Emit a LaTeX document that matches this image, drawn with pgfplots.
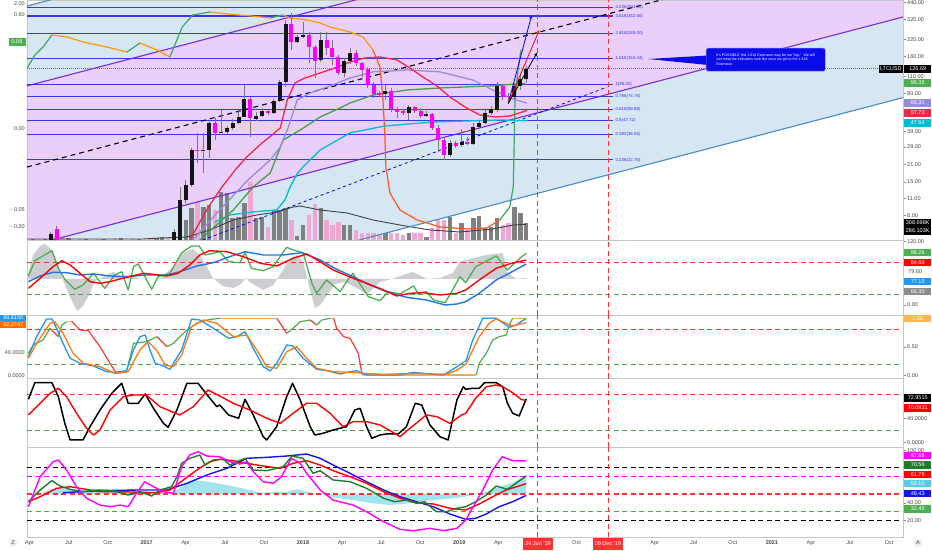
\documentclass[border=0pt]{standalone}
\usepackage{pgfplots}
\pgfplotsset{compat=1.18}
\usepackage{pgfplotstable}
\usepackage{fontspec}
\setmainfont{Liberation Sans}
\usetikzlibrary{arrows.meta}

\definecolor{lav}{RGB}{234,207,250}
\definecolor{lblue}{RGB}{214,230,243}
\definecolor{chanpurple}{RGB}{125,40,225}
\definecolor{chanblue}{RGB}{70,140,200}
\definecolor{fibblue}{RGB}{55,55,235}
\definecolor{maRed}{RGB}{242,40,70}
\definecolor{maPeri}{RGB}{150,140,220}
\definecolor{maGreen}{RGB}{67,160,71}
\definecolor{maCyan}{RGB}{0,188,212}
\definecolor{oscG}{RGB}{60,170,90}
\definecolor{oscO}{RGB}{255,152,0}
\definecolor{oscR}{RGB}{255,87,34}
\definecolor{candleUp}{RGB}{20,20,20}
\definecolor{candleDn}{RGB}{255,0,255}
\definecolor{wickc}{RGB}{120,120,120}
\definecolor{volUp}{RGB}{128,128,128}
\definecolor{volDn}{RGB}{240,165,210}
\definecolor{dRed}{RGB}{255,50,50}
\definecolor{dGreen}{RGB}{70,170,70}
\definecolor{iGreen}{RGB}{76,175,80}
\definecolor{iRed}{RGB}{255,0,0}
\definecolor{iBlue}{RGB}{33,118,230}
\definecolor{sBlue}{RGB}{33,150,243}
\definecolor{sOrange}{RGB}{255,120,20}
\definecolor{sOrangeL}{RGB}{255,170,80}
\definecolor{sRed}{RGB}{240,60,50}
\definecolor{mag}{RGB}{255,0,255}
\definecolor{dkGreen}{RGB}{30,125,45}
\definecolor{pBlue}{RGB}{20,20,230}
\definecolor{cyanFill}{RGB}{160,228,240}
\definecolor{cyanBox}{RGB}{90,205,230}
\definecolor{grayFill}{RGB}{205,205,210}
\definecolor{txt}{RGB}{70,70,70}
\definecolor{callout}{RGB}{10,10,235}
\definecolor{orangeBox}{RGB}{255,183,77}
\definecolor{orangeBox2}{RGB}{255,109,0}

\newcommand\lbl{\fontsize{5.5}{6}\selectfont}
\newcommand\fibl{\fontsize{4.4}{5}\selectfont}

\pgfplotsset{
  panel/.style={scale only axis, width=876pt, anchor=south west,
    xmin=-25.04, xmax=124.19, xtick=\empty,
    axis line style={draw=black!22, line width=0.9pt},
    ytick pos=right, yticklabel pos=right,
    tick align=outside, major tick length=2.5pt,
    ytick style={draw=black!45, line width=0.5pt},
    yticklabel style={font=\lbl, text=txt, inner sep=1.5pt},
    /pgf/number format/assume math mode=true,
    line join=round},
  dl/.style={line width=1.1pt, dash pattern=on 5pt off 3.5pt},
}
\tikzset{vb/.style={fill=#1, text=white, font=\lbl, inner sep=0pt, minimum width=27pt, minimum height=7.5pt, anchor=west}}

\begin{document}
\begin{tikzpicture}[x=1pt,y=1pt]
\path[use as bounding box] (0,0) rectangle (932,550);
\fill[white] (0,0) rectangle (932,550);

% ================= MAIN PANEL : background channels
\begin{axis}[panel, at={(27pt,310pt)}, height=240pt, ymode=log, ymin=5.03, ymax=463.3, axis on top,
  ytick={8,11,15,21,29,39,80,110,160,220,320,440},
  yticklabels={8.00,11.00,15.00,21.00,29.00,39.00,80.00,110.00,160.00,220.00,320.00,440.00}]
\addplot[draw=none, fill=lblue] coordinates {(-25.04,413.8) (124.19,31180) (124.19,6913) (-25.04,91.8)};
\addplot[draw=none, fill=lav] coordinates {(-25.04,91.8) (124.19,6913) (124.19,336.4) (-25.04,4.44)};
\addplot[draw=none, fill=lblue] coordinates {(-25.04,4.44) (124.19,336.4) (124.19,73.6) (-25.04,0.976)};
\end{axis}

% ================= MAIN PANEL : volume
\begin{axis}[panel, at={(27pt,310pt)}, height=240pt, ymin=0, ymax=4358, hide axis]
\addplot[ycomb, volUp, line width=4.4pt] coordinates {(-24,20)(-22,25)(-21,60)(-18,30)(-15,20)(-12,25)(-9,30)(-6,20)(-3,40)(-2,60)(0,145)(1,218)(2,363)(3,581)(5,599)(6,636)(8,872)(9,854)(10,400)(11,418)(12,672)(14,400)(15,418)(17,545)(18,545)(19,581)(21,73)(22,272)(25,581)(29,272)(30,272)(36,127)(40,127)(43,54)(47,418)(49,309)(51,400)(52,436)(53,218)(54,236)(55,400)(58,599)(59,490)(60,309)};
\addplot[ycomb, volDn, line width=4.4pt] coordinates {(-23,20)(-20,90)(-19,30)(-16,25)(-13,20)(-10,30)(-7,25)(-4,30)(-1,50)(4,690)(7,545)(13,1053)(16,236)(20,363)(23,454)(24,654)(26,363)(27,272)(28,327)(31,182)(32,127)(33,127)(34,127)(35,91)(37,127)(38,127)(39,91)(41,127)(42,127)(44,218)(45,363)(46,363)(48,127)(50,182)(56,272)(57,309)};
\addplot[black!75, line width=0.9pt] coordinates {(-25.0,18)(-5.3,18)(-2.4,36)(2.2,54)(6.1,182)(10.1,363)(14.1,454)(17.5,508)(20.3,599)(21.5,617)(24.9,545)(29.5,490)(33.9,363)(38.5,272)(43.6,182)(48.7,145)(54.3,200)(57.8,272)(60.0,286)};
\end{axis}

% ================= MAIN PANEL : price
\begin{axis}[panel, at={(27pt,310pt)}, height=240pt, ymode=log, ymin=5.03, ymax=463.3, hide axis]
% channel lines
\addplot[chanblue, line width=1.1pt] coordinates {(-25.04,413.8) (124.19,31180)};
\addplot[chanpurple, line width=1.1pt] coordinates {(-25.04,91.8) (124.19,6913)};
\addplot[chanpurple, line width=1.1pt] coordinates {(-25.04,4.44) (124.19,336.4)};
\addplot[chanblue, line width=1.1pt] coordinates {(-25.04,0.976) (124.19,73.6)};
% fibonacci levels
\addplot[fibblue, line width=1.1pt] coordinates {(-25.04,404.80) (74.8,404.80)};
\addplot[fibblue, line width=1.1pt] coordinates {(-25.04,342.56) (74.8,342.56)};
\addplot[fibblue, line width=1.1pt] coordinates {(-25.04,248.00) (74.8,248.00)};
\addplot[fibblue, line width=1.1pt] coordinates {(-25.04,153.44) (74.8,153.44)};
\addplot[fibblue, line width=1.1pt] coordinates {(-25.04,95.00) (74.8,95.00)};
\addplot[fibblue, line width=1.1pt] coordinates {(-25.04,74.76) (74.8,74.76)};
\addplot[fibblue, line width=1.1pt] coordinates {(-25.04,58.88) (74.8,58.88)};
\addplot[fibblue, line width=1.1pt] coordinates {(-25.04,47.72) (74.8,47.72)};
\addplot[fibblue, line width=1.1pt] coordinates {(-25.04,36.56) (74.8,36.56)};
\addplot[fibblue, line width=1.1pt] coordinates {(-25.04,22.76) (74.8,22.76)};
% last price
\addplot[black!55, line width=0.9pt, dash pattern=on 1pt off 1pt] coordinates {(-25.04,126.69) (124.19,126.69)};
% trend lines
\addplot[black, line width=1.1pt, dash pattern=on 5pt off 4pt] coordinates {(-25.04,19.9) (83.6,472)};
\addplot[blue, line width=0.8pt, dash pattern=on 3pt off 3pt] coordinates {(4.9,5.03) (73.8,89.9)};
% oscillator overlay (left scale)
\addplot[oscG, line width=1.2pt] coordinates {(-25.0,128.7) (-23.7,164.3) (-22.3,191.0) (-20.8,239.6)};
\addplot[oscO, line width=1.2pt] coordinates {(-20.8,239.6) (-18.2,230.8) (-15.5,210.0) (-11.4,191.0) (-8.0,173.8)};
\addplot[oscG, line width=1.2pt] coordinates {(-8.0,173.8) (-5.8,206.1)};
\addplot[oscO, line width=1.2pt] coordinates {(-5.8,206.1) (-2.9,180.6) (-0.7,158.3)};
\addplot[oscG, line width=1.2pt] coordinates {(-0.7,158.3) (1.4,278.6) (3.2,349.3) (6.1,369.5)};
\addplot[oscO, line width=1.2pt] coordinates {(6.1,369.5) (10.9,349.3) (12.6,345) (16.4,330.0)};
\addplot[oscG, line width=1.2pt] coordinates {(16.4,330.0) (18.6,349.3)};
\addplot[oscO, line width=1.2pt] coordinates {(18.6,349.3) (19.8,330.0) (22.7,317.8) (24.9,300.4) (26.6,278.6) (30.0,253.5) (32.2,230.8) (33.9,180.6)};
\addplot[oscR, line width=1.2pt] coordinates {(33.9,180.6) (35.1,131.1) (35.6,70.4) (35.9,37.9) (36.1,19.9) (36.8,12.15) (38.5,8.86) (41.4,7.34) (45.3,6.43) (49.9,6.19) (53.3,6.31) (55.5,7.34)};
\addplot[oscG, line width=1.2pt] coordinates {(55.5,7.34) (57.2,9.37) (57.8,13.7) (58.1,70.4) (58.6,123.9) (59.1,180.6)};
% moving averages
\addplot[maCyan, line width=1.3pt] coordinates {(7.0,7.07) (9.5,8.06) (14.1,8.6) (17.5,8.86) (18.9,10.7) (19.8,13.7) (21.0,17.5) (22.0,20.0) (24.9,27.4) (30.0,37.9) (35.9,43.1) (44.1,46.5) (55.5,48.3) (60.1,47.64)};
\addplot[maGreen, line width=1.3pt] coordinates {(4.4,5.03) (10.1,8.86) (13.5,13.7) (16.4,17.8) (18.6,33.1) (21.5,40.0) (24.9,51.1) (28.3,60.5) (30.0,66.5) (33.9,77.3) (39.7,85.0) (45.3,88.3) (53.8,91.7) (59.8,96.35)};
\addplot[maPeri, line width=1.3pt] coordinates {(3.2,5.03) (7.8,8.86) (12.6,15.6) (16.4,22.7) (18.1,29.0) (19.3,40.0) (21.0,70.4) (23.2,80.3) (26.1,90.0) (30.0,106.5) (33.9,119.6) (39.7,123.9) (45.3,119.6) (50.9,102.6) (54.3,85.0) (57.8,71.7) (60.1,66.31)};
\addplot[maRed, line width=1.3pt] coordinates {(2.7,5.03) (4.4,7.07) (6.1,9.73) (8.2,13.7) (10.4,18.8) (12.4,24.1) (15.0,31.3) (16.7,36.4) (18.1,41.5) (19.3,70.4) (20.6,96.9) (22.3,106.5) (24.9,117.1) (27.8,130.6) (30.0,144.1) (32.5,155.3) (35.1,158.3) (38.0,149.6) (40.2,128.6) (42.4,108.5) (44.8,91.7) (47.0,74.5) (49.6,61.6) (52.1,53.0) (54.7,51.1) (57.2,52.0) (60.1,57.73)};
% candles: wicks
\addplot[wickc, line width=0.6pt, unbounded coords=jump] coordinates {(-21,4.4)(-21,5.9)(-21,nan) (-20,4.3)(-20,6.55)(-20,nan) (0,4.3)(0,6.2)(0,nan) (1,4.8)(1,13.7)(1,nan) (2,10.1)(2,15.6)(2,nan) (3,13.7)(3,28.5)(3,nan) (4,21.5)(4,37.9)(4,nan) (5,17.8)(5,37.9)(5,nan) (6,23.6)(6,48.3)(6,nan) (7,33.1)(7,50.2)(7,nan) (8,37.5)(8,58.3)(8,nan) (9,37.2)(9,43.1)(9,nan) (10,40.0)(10,49.2)(10,nan) (11,44.7)(11,58.3)(11,nan) (12,51.1)(12,93.4)(12,nan) (13,35.0)(13,74.5)(13,nan) (14,47.4)(14,56.1)(14,nan) (15,51.1)(15,60.5)(15,nan) (16,53.0)(16,58.3)(16,nan) (17,54.0)(17,71.7)(17,nan) (18,67.8)(18,102.6)(18,nan) (19,90.0)(19,317.8)(19,nan) (20,180.6)(20,362.6)(20,nan) (21,206.1)(21,239.6)(21,nan) (22,226.5)(22,306.1)(22,nan) (23,141.8)(23,253.4)(23,nan) (24,106.5)(24,198.4)(24,nan) (25,144.1)(25,253.4)(25,nan) (26,164.3)(26,253.4)(26,nan) (27,136.1)(27,218.0)(27,nan) (28,112.7)(28,164.3)(28,nan) (29,108.5)(29,155.3)(29,nan) (30,138.7)(30,187.4)(30,nan) (31,133.6)(31,180.6)(31,nan) (32,108.5)(32,144.1)(32,nan) (33,88.3)(33,130.6)(33,nan) (34,72.9)(34,98.8)(34,nan) (35,74.5)(35,83.4)(35,nan) (36,70.4)(36,93.4)(36,nan) (37,56.1)(37,88.3)(37,nan) (38,50.2)(38,61.6)(38,nan) (39,53.0)(39,59.4)(39,nan) (40,48.3)(40,64.0)(40,nan) (41,55.1)(41,62.8)(41,nan) (42,50.2)(42,60.5)(42,nan) (43,51.1)(43,57.2)(43,nan) (44,40.0)(44,55.1)(44,nan) (45,26.4)(45,43.9)(45,nan) (46,22.7)(46,34.4)(46,nan) (47,24.1)(47,33.1)(47,nan) (48,28.5)(48,32.5)(48,nan) (49,29.0)(49,40.8)(49,nan) (50,30.1)(50,35.0)(50,nan) (51,30.1)(51,45.6)(51,nan) (52,40.8)(52,48.3)(52,nan) (53,44.7)(53,58.3)(53,nan) (54,53.0)(54,62.8)(54,nan) (55,56.1)(55,98.8)(55,nan) (56,70.4)(56,95.2)(56,nan) (57,66.5)(57,80.3)(57,nan) (58,70.4)(58,97.0)(58,nan) (59,85.0)(59,114.8)(59,nan) (60,97.0)(60,133.6)};
% candles: bodies
\addplot[candleUp, line width=4pt, unbounded coords=jump] coordinates {(-21,4.6)(-21,5.6)(-21,nan) (0,4.5)(0,5.85)(0,nan) (1,4.9)(1,10.7)(1,nan) (2,10.7)(2,14.2)(2,nan) (3,14.2)(3,27.4)(3,nan) (5,26.7)(5,27.3)(5,nan) (6,27.3)(6,45.6)(6,nan) (8,37.7)(8,38.6)(8,nan) (9,38.5)(9,41.5)(9,nan) (10,41.5)(10,45.6)(10,nan) (11,45.6)(11,51.1)(11,nan) (12,51.1)(12,71.7)(12,nan) (14,49.2)(14,52.0)(14,nan) (15,52.0)(15,57.2)(15,nan) (17,55.1)(17,69.1)(17,nan) (18,69.1)(18,98.8)(18,nan) (19,98.8)(19,294.8)(19,nan) (21,210.0)(21,230.8)(21,nan) (22,230.8)(22,239.6)(22,nan) (25,149.6)(25,218.0)(25,nan) (29,117.1)(29,146.8)(29,nan) (30,146.8)(30,170.6)(30,nan) (36,78.8)(36,83.4)(36,nan) (40,55.1)(40,61.6)(40,nan) (43,52.0)(43,54.0)(43,nan) (47,25.0)(47,31.3)(47,nan) (49,30.1)(49,31.9)(49,nan) (51,30.7)(51,42.3)(51,nan) (52,42.3)(52,45.6)(52,nan) (53,45.6)(53,55.1)(53,nan) (54,55.1)(54,59.4)(54,nan) (55,58.3)(55,91.7)(55,nan) (58,74.5)(58,91.7)(58,nan) (59,91.7)(59,104.6)(59,nan) (60,104.6)(60,126.69)};
\addplot[candleDn, line width=4pt, unbounded coords=jump] coordinates {(-20,6.2)(-20,4.8)(-20,nan) (4,27.4)(4,26.7)(4,nan) (7,45.6)(7,37.9)(7,nan) (13,71.7)(13,50.2)(13,nan) (16,57.2)(16,55.1)(16,nan) (20,294.8)(20,210.0)(20,nan) (23,239.6)(23,191.0)(23,nan) (24,191.0)(24,146.8)(24,nan) (26,218.0)(26,187.4)(26,nan) (27,187.4)(27,158.3)(27,nan) (28,158.3)(28,117.1)(28,nan) (31,170.6)(31,141.8)(31,nan) (32,141.8)(32,123.9)(32,nan) (33,126.2)(33,93.4)(33,nan) (34,93.4)(34,78.8)(34,nan) (35,80.3)(35,77.3)(35,nan) (37,83.4)(37,59.4)(37,nan) (38,59.4)(38,56.1)(38,nan) (39,57.2)(39,55.1)(39,nan) (41,61.6)(41,57.2)(41,nan) (42,57.2)(42,52.0)(42,nan) (44,54.0)(44,41.5)(44,nan) (45,41.5)(45,33.1)(45,nan) (46,33.1)(46,25.0)(46,nan) (48,31.3)(48,29.6)(48,nan) (50,31.9)(50,30.7)(50,nan) (56,91.7)(56,74.5)(56,nan) (57,76.3)(57,74.5)};
% projection arrows
\addplot[blue, line width=0.8pt, -{Stealth[length=4pt,width=3pt]}] coordinates {(56.95,66.1) (60.94,349.3)};
\addplot[red, line width=0.8pt, -{Stealth[length=4pt,width=3pt]}] coordinates {(56.95,66.1) (62.23,263.2)};
\addplot[black, line width=0.8pt, -{Stealth[length=4pt,width=3pt]}] coordinates {(56.95,66.1) (61.89,172.9)};
% date lines
\addplot[dRed, dl] coordinates {(62,5.03) (62,463.3)};
\addplot[dRed, dl] coordinates {(74,5.03) (74,463.3)};
% fib labels
\node[anchor=west, font=\fibl, text=fibblue, inner sep=0.5pt] at (axis cs:75.1,404.80) {4.236(404.80)};
\node[anchor=west, font=\fibl, text=fibblue, inner sep=0.5pt] at (axis cs:75.1,342.56) {3.618(342.56)};
\node[anchor=west, font=\fibl, text=fibblue, inner sep=0.5pt] at (axis cs:75.1,248.00) {2.618(248.00)};
\node[anchor=west, font=\fibl, text=fibblue, inner sep=0.5pt] at (axis cs:75.1,153.44) {1.618(153.44)};
\node[anchor=west, font=\fibl, text=fibblue, inner sep=0.5pt] at (axis cs:75.1,95.00) {1(95.00)};
\node[anchor=west, font=\fibl, text=fibblue, inner sep=0.5pt] at (axis cs:75.1,74.76) {0.786(74.76)};
\node[anchor=west, font=\fibl, text=fibblue, inner sep=0.5pt] at (axis cs:75.1,58.88) {0.618(58.88)};
\node[anchor=west, font=\fibl, text=fibblue, inner sep=0.5pt] at (axis cs:75.1,47.72) {0.5(47.72)};
\node[anchor=west, font=\fibl, text=fibblue, inner sep=0.5pt] at (axis cs:75.1,36.56) {0.382(36.56)};
\node[anchor=west, font=\fibl, text=fibblue, inner sep=0.5pt] at (axis cs:75.1,22.76) {0.236(22.76)};
\end{axis}

% ================= PANEL 2
\begin{axis}[panel, at={(27pt,235pt)}, height=75pt, ymin=-19.4, ymax=123.0,
  ytick={0,120}, yticklabels={0.00,120.00}]
\addplot[draw=none, fill=grayFill] coordinates {(-25.04,49) (-25.0,52.8) (-24.0,94.6) (-22.8,111.6) (-22.0,115.4) (-21.1,107.8) (-19.9,81.3) (-18.9,47.1) (-17.7,14.8) (-16.5,-11.8) (-15.5,-2.3) (-14.3,22.4) (-13.5,45.2) (-12.1,52.8) (-10.4,62.3) (-8.7,52.8) (-7.0,54.7) (-5.8,49.0) (-2.4,49.0) (-0.2,71.8) (1.5,98.3) (3.2,105.9) (4.4,94.6) (5.6,71.8) (6.6,50.9) (8.3,35.7) (10.1,31.9) (11.2,37.6) (12.3,50.9) (12.9,43.3) (15.2,28.1) (16.9,37.6) (18.6,66.1) (19.8,88.9) (21.0,94.6) (22.0,81.3) (23.2,28.1) (24.0,-6.1) (24.9,-0.4) (26.1,18.6) (27.4,39.5) (29.1,43.3) (30.8,33.8) (32.9,20.5) (35.1,43.3) (37.1,49.0) (38.5,54.7) (40.7,62.3) (43.1,49.0) (45.3,50.9) (47.5,60.4) (48.7,81.3) (49.7,85.1) (53.2,94.6) (56.0,98.3) (56.7,62.3) (58.3,49.0) (60.0,50.9) (60.0,49.0)};
\addplot[dRed, dl] coordinates {(-25.04,80) (124.19,80)};
\addplot[dGreen, dl] coordinates {(-25.04,20) (124.19,20)};
\addplot[dRed, dl] coordinates {(62,-19.4) (62,123)};
\addplot[dRed, dl] coordinates {(74,-19.4) (74,123)};
\addplot[iGreen, line width=1.3pt] coordinates {(-24.8,54.7) (-23.7,83.7) (-20.8,102.7) (-19.7,69.3) (-18.6,48.4) (-16.9,29.4) (-15.5,37.6) (-13.7,59.8) (-11.8,31.3) (-10.1,56.6) (-8.9,62.8) (-7.8,28.1) (-6.9,72.3) (-6.1,77.5) (-3.8,29.4) (-2.7,53.4) (-0.7,59.8) (1.3,98.9) (3.0,111.6) (4.3,111.6) (5.3,94.6) (6.7,97.8) (7.8,100.8) (9.3,81.8) (11.2,79.9) (12.1,98.9) (13.2,69.3) (15.2,64.7) (16.9,72.3) (19.2,109.2) (20.3,104.0) (22.0,98.9) (23.5,40.8) (24.3,21.8) (26.0,47.1) (28.3,24.9) (29.4,43.9) (30.5,59.8) (33.1,15.4) (35.1,7.8) (36.5,24.9) (38.5,20.5) (40.8,35.7) (41.6,21.8) (43.0,24.9) (44.2,9.1) (46.2,4.0) (47.3,24.9) (48.7,53.4) (49.7,42.0) (51.4,72.3) (54.9,92.7) (56.8,66.1) (59.1,90.2) (60.0,97.8)};
\addplot[iBlue, line width=1.4pt] coordinates {(-24.8,43.9) (-22.8,54.7) (-20.6,61.7) (-18.3,60.9) (-16.0,56.6) (-13.7,58.5) (-10.9,54.7) (-8.1,53.4) (-4.7,56.6) (-1.2,56.6) (1.0,62.8) (3.9,73.7) (6.7,79.9) (9.5,91.3) (12.1,100.8) (15.2,94.6) (18.6,94.6) (21.8,98.9) (24.9,85.1) (27.7,67.4) (30.5,53.4) (33.4,37.6) (36.2,24.9) (39.6,14.2) (43.0,9.1) (46.2,-0.4) (48.2,1.5) (49.7,5.9) (52.0,21.8) (54.9,47.1) (57.1,59.8) (60.0,77.5)};
\addplot[iRed, line width=1.4pt] coordinates {(-24.8,31.3) (-22.8,50.3) (-20.6,72.3) (-19.1,83.7) (-17.7,75.6) (-16.0,59.8) (-14.3,43.9) (-12.6,40.8) (-10.9,43.9) (-8.1,52.2) (-5.2,59.8) (-1.2,54.7) (0.7,59.8) (2.7,75.6) (4.4,94.6) (6.1,102.7) (9.0,100.8) (11.8,91.3) (14.7,78.8) (17.5,73.7) (20.3,88.3) (22.6,96.5) (24.9,81.8) (27.1,66.1) (30.5,50.3) (32.8,40.8) (35.7,28.1) (37.9,16.7) (40.2,21.8) (42.5,23.0) (45.3,18.6) (48.2,21.8) (49.7,28.1) (52.0,47.1) (54.9,69.3) (57.1,77.5) (60.0,85.1)};
\end{axis}

% ================= PANEL 3 (stochastic)
\begin{axis}[panel, at={(27pt,172pt)}, height=63pt, ymin=-4.0, ymax=105.7,
  ytick={0,50}, yticklabels={0.00,0.50}]
\addplot[dRed, dl] coordinates {(-25.04,80) (124.19,80)};
\addplot[dGreen, dl] coordinates {(-25.04,20) (124.19,20)};
\addplot[dRed, dl] coordinates {(62,-4) (62,105.7)};
\addplot[dRed, dl] coordinates {(74,-4) (74,105.7)};
\addplot[iGreen, line width=1.2pt] coordinates {(-24.8,39.0) (-24.0,53.5) (-22.3,62.2) (-21.1,82.6)};
\addplot[sRed, line width=1.2pt] coordinates {(-21.1,82.6) (-19.7,67.9)};
\addplot[iGreen, line width=1.2pt] coordinates {(-19.7,67.9) (-19.1,88.3) (-18.3,94.1)};
\addplot[sOrangeL, line width=1.2pt] coordinates {(-18.3,94.1) (-17.4,94.1)};
\addplot[sRed, line width=1.2pt] coordinates {(-17.4,94.1) (-16.0,79.6) (-14.6,78.4) (-12.6,50.5) (-10.9,21.6) (-9.8,4.2) (-8.1,7.0)};
\addplot[iGreen, line width=1.2pt] coordinates {(-8.1,7.0) (-6.9,56.4) (-4.7,59.2) (-2.9,67.9)};
\addplot[sRed, line width=1.2pt] coordinates {(-2.9,67.9) (-1.2,50.5)};
\addplot[iGreen, line width=1.2pt] coordinates {(-1.2,50.5) (-0.1,56.4) (2.2,79.6) (3.9,91.3) (5.6,97.0) (7.8,100)};
\addplot[sOrangeL, line width=1.2pt] coordinates {(7.8,100) (17.5,100)};
\addplot[sRed, line width=1.2pt] coordinates {(17.5,100) (18.1,91.3) (19.2,73.9)};
\addplot[iGreen, line width=1.2pt] coordinates {(19.2,73.9) (20.3,82.6) (21.5,94.1) (23.2,97.0)};
\addplot[sRed, line width=1.2pt] coordinates {(23.2,97.0) (24.3,88.3)};
\addplot[iGreen, line width=1.2pt] coordinates {(24.3,88.3) (25.2,97.0) (26.6,100)};
\addplot[sOrangeL, line width=1.2pt] coordinates {(26.6,100) (27.2,100)};
\addplot[sRed, line width=1.2pt] coordinates {(27.2,100) (27.7,82.6) (28.9,67.9) (30.0,65.1) (31.4,39.0) (32.0,4.2) (32.3,1.2)};
\addplot[sOrangeL, line width=1.2pt] coordinates {(32.3,1.2) (51.5,1.2)};
\addplot[iGreen, line width=1.2pt] coordinates {(51.5,1.2) (52.0,21.6) (53.2,39.0) (54.3,62.2) (55.4,67.9) (56.6,70.9) (57.1,88.3) (57.7,100)};
\addplot[sOrangeL, line width=1.2pt] coordinates {(57.7,100) (60.0,100)};
\addplot[sBlue, line width=1.3pt] coordinates {(-24.8,33.1) (-23.4,67.9) (-21.7,98.8) (-20.8,98.8) (-20.0,82.6) (-18.9,56.4) (-17.7,30.3) (-16.0,21.6) (-13.7,16.9) (-11.5,7.0) (-10.1,5.9) (-8.1,8.7) (-6.9,44.8) (-5.8,67.9) (-4.9,70.9) (-4.1,44.8) (-3.2,21.6) (-1.8,16.9) (-0.7,11.1) (1.3,44.8) (3.0,98.8) (4.4,97.0) (6.7,82.6) (9.3,65.1) (10.7,67.9) (12.1,76.6) (13.5,47.7) (15.2,15.7) (16.4,8.2) (17.5,21.6) (19.2,53.5) (20.3,51.7) (22.0,30.3) (24.3,11.1) (26.0,8.7) (28.3,3.0) (30.0,7.0) (31.1,8.7) (32.8,1.2) (38.5,1.2) (40.8,5.9) (43.6,3.0) (45.9,1.2) (48.2,15.7) (49.75,26.1) (50.9,62.2) (52.6,100) (54.9,100) (57.1,84.3) (58.3,88.3) (60.0,99.8)};
\addplot[sOrange, line width=1.3pt] coordinates {(-24.8,30.3) (-23.4,56.4) (-21.1,91.3) (-20.3,94.1) (-18.9,73.9) (-17.2,39.0) (-15.4,21.6) (-12.6,15.7) (-10.1,4.2) (-7.8,7.0) (-5.8,44.8) (-4.4,59.2) (-3.0,44.8) (-1.5,18.6) (-0.1,15.7) (1.3,36.1) (3.0,85.4) (5.0,97.0) (7.3,91.3) (10.1,67.9) (12.4,70.9) (14.1,44.8) (15.8,15.7) (17.5,12.9) (19.2,41.8) (20.9,50.5) (22.6,30.3) (24.3,12.9) (27.1,7.0) (30.0,5.9) (32.3,4.2) (35.7,2.4) (41.3,4.2) (44.2,3.0) (46.5,3.0) (48.2,9.9) (49.75,20.4) (50.9,44.8) (52.0,67.9) (53.7,91.3) (54.9,98.8) (56.6,91.3) (57.7,86.6) (60.0,92.3)};
\end{axis}

% ================= PANEL 4
\begin{axis}[panel, at={(27pt,103pt)}, height=69pt, ymin=-7.2, ymax=107.8,
  ytick={0,40,80}, yticklabels={0.0000,40.0000,{}}]
\addplot[dRed, dl] coordinates {(-25.04,80) (124.19,80)};
\addplot[dGreen, dl] coordinates {(-25.04,20) (124.19,20)};
\addplot[dRed, dl] coordinates {(62,-7.2) (62,107.8)};
\addplot[dRed, dl] coordinates {(74,-7.2) (74,107.8)};
\addplot[black, line width=1.5pt] coordinates {(-24.8,72.3) (-23.7,100.0) (-20.8,100.0) (-19.7,76.7) (-18.6,32.3) (-17.7,4.5) (-15.5,4.5) (-14.3,26.7) (-12.6,54.5) (-10.6,82.3) (-8.9,99.0) (-7.8,65.7) (-6.1,65.7) (-4.9,81.2) (-3.5,57.3) (-1.8,32.3) (-1.0,25.7) (0.5,54.5) (2.2,99.0) (4.1,99.0) (5.8,77.8) (7.3,60.0) (7.8,62.8) (9.3,46.2) (11.0,40.7) (12.1,72.3) (13.5,46.2) (15.2,10.0) (15.8,4.5) (17.5,26.7) (19.2,76.7) (20.2,99.0) (21.5,71.2) (23.2,26.7) (24.0,12.8) (25.4,15.7) (27.1,21.2) (29.4,26.7) (30.8,54.5) (31.7,57.3) (32.8,26.7) (33.7,7.3) (35.1,12.8) (36.2,14.5) (38.2,14.5) (39.6,26.7) (41.1,65.7) (42.2,62.8) (43.6,29.5) (45.3,10.0) (46.7,4.5) (48.2,71.2) (49.3,93.3) (49.7,89.0) (50.9,90.7) (52.0,90.7) (52.9,100.0) (54.9,100.0) (56.0,93.3) (56.8,65.7) (57.7,49.0) (58.8,44.5) (60.0,72.95)};
\addplot[iRed, line width=1.4pt] coordinates {(-24.8,46.2) (-22.8,65.7) (-21.1,82.3) (-19.7,90.7) (-18.3,76.7) (-16.6,49.0) (-14.9,24.0) (-13.7,12.8) (-12.6,21.2) (-10.9,54.5) (-8.6,76.7) (-6.9,79.5) (-4.7,79.5) (-2.4,60.0) (1.0,46.2) (3.3,60.0) (5.8,87.8) (7.8,77.8) (10.1,65.7) (12.9,54.5) (15.8,40.7) (18.1,32.3) (20.3,49.0) (22.6,65.7) (24.3,65.7) (26.6,49.0) (28.8,26.7) (30.5,35.0) (32.8,35.0) (35.1,29.5) (37.1,18.3) (38.5,10.0) (40.2,24.0) (43.0,46.2) (44.8,43.3) (47.0,32.3) (49.0,46.2) (49.7,49.0) (51.4,74.0) (53.2,93.3) (54.9,96.2) (56.0,93.3) (57.7,83.3) (59.1,72.3) (60.0,70.09)};
\end{axis}

% ================= PANEL 5
\begin{axis}[panel, at={(27pt,13pt)}, height=90pt, ymin=0.96, ymax=103.6,
  ytick={20,40,100}, yticklabels={20.00,40.00,100.00},
  xtick={-24.62,-17.96,-11.31,-4.65,2.01,8.66,15.32,21.97,28.63,35.29,41.94,48.60,55.25,68.57,81.88,88.53,95.19,101.85,108.50,115.16,121.81},
  xticklabels={Apr,Jul,Oct,\textbf{2017},Apr,Jul,Oct,\textbf{2018},Apr,Jul,Oct,\textbf{2019},Apr,Oct,Apr,Jul,Oct,\textbf{2021},Apr,Jul,Oct},
  xtick style={draw=none}, xticklabel style={font=\lbl, text=txt, inner sep=1.2pt}]
\addplot[draw=none, fill=cyanFill] coordinates {(-22.8,50.0) (-21.1,55.1) (-18.9,56.3) (-16.5,54.6) (-12.6,52.8) (-5.8,52.8) (-1.5,51.7) (-0.2,51.5) (1.4,58.3) (3.2,66.0) (5.6,64.0) (9.0,60.3) (12.4,55.3) (14.7,51.5) (19.3,52.6) (21.0,55.3) (22.7,52.6) (24.4,50.0) (27.1,46.2) (30.5,43.1) (33.9,39.4) (36.8,37.4) (40.2,39.4) (44.1,43.1) (47.5,45.1) (49.7,47.1) (53.2,52.6) (55.4,58.3) (57.8,62.9) (60.0,71.7) (60.0,50.0)};
\addplot[black, dl] coordinates {(-25.04,80) (124.19,80)};
\addplot[mag, dl] coordinates {(-25.04,70) (124.19,70)};
\addplot[dRed, dl] coordinates {(-25.04,50) (124.19,50)};
\addplot[dGreen, dl] coordinates {(-25.04,30) (124.19,30)};
\addplot[black, dl] coordinates {(-25.04,20) (124.19,20)};
\addplot[dRed, dl] coordinates {(62,0.96) (62,103.6)};
\addplot[dRed, dl] coordinates {(74,0.96) (74,103.6)};
\addplot[pBlue, line width=1.4pt] coordinates {(-18.9,51.5) (-12.6,53.8) (-5.8,54.6) (-1.2,54.6) (2.2,62.2) (5.6,71.7) (9.0,79.3) (12.4,90.7) (15.8,91.8) (19.2,93.3) (22.6,95.6) (24.9,90.7) (27.1,83.1) (30.0,73.6) (32.8,64.0) (35.7,54.6) (38.5,46.9) (41.3,41.2) (44.2,35.5) (47.0,27.2) (49.7,21.1) (51.4,22.3) (53.2,27.2) (55.4,35.5) (57.7,41.2) (60.0,48.43)};
\addplot[iRed, line width=1.4pt] coordinates {(-24.8,41.2) (-22.8,46.9) (-20.0,56.5) (-17.7,58.3) (-14.9,55.3) (-12.6,52.6) (-9.2,52.6) (-2.9,51.5) (-0.7,54.6) (1.6,66.0) (3.9,77.4) (6.1,86.8) (7.8,89.6) (10.1,88.0) (12.4,85.0) (15.2,81.9) (18.1,79.3) (20.3,85.0) (22.6,88.0) (24.9,83.1) (27.1,76.6) (30.0,69.7) (32.8,62.2) (35.7,52.6) (38.5,45.1) (41.3,40.1) (44.2,38.6) (47.0,33.7) (49.7,31.7) (52.0,38.6) (54.3,46.9) (56.6,54.6) (60.0,61.78)};
\addplot[dkGreen, line width=1.4pt] coordinates {(-24.8,41.2) (-22.8,54.6) (-20.8,65.2) (-19.4,59.1) (-17.7,55.3) (-15.5,52.6) (-13.2,54.6) (-10.4,53.8) (-7.8,48.8) (-5.8,52.6) (-3.8,47.7) (-2.4,54.6) (-0.4,58.3) (0.5,69.7) (1.3,85.0) (2.7,90.7) (4.4,94.5) (5.3,83.1) (6.7,88.8) (8.4,89.6) (9.5,83.1) (10.7,86.8) (12.1,90.7) (13.5,77.4) (15.8,76.6) (17.5,79.3) (18.6,81.1) (20.1,93.3) (22.0,90.7) (23.7,73.6) (24.9,76.6) (27.1,66.0) (30.0,64.0) (32.8,56.5) (35.7,45.1) (37.6,41.2) (39.6,43.1) (41.3,39.4) (42.7,41.2) (44.7,29.8) (46.4,29.8) (48.2,33.7) (49.7,35.5) (51.4,41.2) (53.2,48.8) (54.9,59.1) (56.8,55.3) (60.0,70.56)};
\addplot[mag, line width=1.4pt] coordinates {(-24.8,35.5) (-22.8,69.7) (-20.6,86.8) (-19.7,88.8) (-18.3,77.4) (-16.6,58.3) (-14.9,45.1) (-12.6,37.4) (-10.9,35.5) (-9.2,37.4) (-7.8,35.5) (-6.4,50.8) (-5.0,64.0) (-3.5,58.3) (-1.8,52.6) (-0.1,50.8) (1.3,81.1) (2.7,94.5) (4.1,98.2) (5.6,93.3) (7.8,92.5) (9.5,86.8) (11.2,84.2) (12.4,86.8) (13.5,75.4) (15.2,64.0) (16.9,62.2) (18.3,69.7) (20.0,90.7) (21.5,85.0) (22.6,73.6) (24.9,54.6) (27.1,43.1) (30.5,37.4) (32.8,29.8) (35.7,18.4) (38.5,9.7) (40.8,8.1) (43.6,10.9) (45.9,8.1) (48.2,10.9) (49.7,20.3) (52.6,54.6) (54.3,77.4) (55.9,92.5) (57.7,88.0) (60.0,87.68)};
\end{axis}

% ================= value boxes and side labels
% main panel, right
\node[fill=black, text=white, font=\lbl, inner sep=0pt, minimum width=24pt, minimum height=7.5pt, anchor=east] at (903,481) {LTCUSD};
\node[vb=black] at (904,481) {126.69};
\node[vb=iGreen] at (904,467) {96.35};
\node[vb=maPeri] at (904,447) {66.31};
\node[vb=maRed] at (904,437) {57.73};
\node[vb=maCyan] at (904,427) {47.64};
\node[vb=black] at (904,327) {308.698K};
\node[vb=black] at (904,319) {286.103K};
% main panel, left
\node[anchor=east, font=\lbl, text=txt, inner sep=0pt] at (25,546.5) {2.00};
\node[anchor=east, font=\lbl, text=txt, inner sep=0pt] at (25,535) {0.60};
\node[fill=iGreen, text=white, font=\lbl, inner sep=0pt, minimum width=17pt, minimum height=7.5pt] at (17,508) {0.08};
\node[anchor=east, font=\lbl, text=txt, inner sep=0pt] at (25,421) {0.00};
\node[anchor=east, font=\lbl, text=txt, inner sep=0pt] at (25,340) {$-$0.05};
\node[anchor=east, font=\lbl, text=txt, inner sep=0pt] at (25,323) {$-$0.20};
% panel 2
\node[vb=iGreen] at (904,297.3) {98.26};
\node[vb=iRed] at (904,287.3) {84.60};
\node[anchor=west, font=\lbl, text=txt, inner sep=0pt] at (908,278) {79.60};
\node[vb=sBlue] at (904,268.7) {77.15};
\node[vb=black!45] at (904,258.3) {66.30};
% panel 3
\node[vb=orangeBox] at (904,231.7) {1.00};
\node[fill=sBlue, text=white, font=\lbl, inner sep=0pt, minimum width=26pt, minimum height=6.5pt, anchor=west] at (0,232) {99.8156};
\node[fill=orangeBox2, text=white, font=\lbl, inner sep=0pt, minimum width=26pt, minimum height=6.5pt, anchor=west] at (0,225.7) {92.2747};
\node[anchor=east, font=\lbl, text=txt, inner sep=0pt] at (25,197.3) {40.0000};
\node[anchor=east, font=\lbl, text=txt, inner sep=0pt] at (25,174.3) {0.0000};
% panel 4
\node[vb=black] at (904,152) {72.9515};
\node[vb=iRed] at (904,142) {70.0931};
% panel 5
\node[vb=mag] at (904,94.7) {87.68};
\node[vb=dkGreen] at (904,85) {70.56};
\node[vb=iRed] at (904,75.3) {61.78};
\node[vb=cyanBox] at (904,66.3) {50.10};
\node[vb=pBlue] at (904,56.7) {48.43};
\node[vb=iGreen] at (904,41) {32.45};
% date boxes on the time axis
\node[fill=dRed, text=white, font=\lbl, inner sep=0pt, minimum width=30pt, minimum height=12pt] at (538,6.5) {24 Jun '19};
\node[fill=dRed, text=white, font=\lbl, inner sep=0pt, minimum width=30pt, minimum height=12pt] at (608,6.5) {09 Dec '19};
\node[circle, fill=black!8, text=txt, font=\lbl, inner sep=1pt] at (13,7) {Z};
\node[circle, fill=black!8, text=txt, font=\lbl, inner sep=1pt] at (918,7) {A};
% callout
\fill[callout] (648,491) -- (708,494.5) -- (708,485) -- cycle;
\node[fill=callout, draw=callout!50!white, rounded corners=2pt, text=white, font=\fontsize{3.6}{4.6}\selectfont, align=left, anchor=north west, inner sep=1.5pt, minimum width=119pt, minimum height=23pt] at (706,502) {It's POSSIBLE this 1.618 Extension may be our "top."\ \ We will\\see what the indicators look like once we get to the 1.618\\Extension.};
\end{tikzpicture}
\end{document}
